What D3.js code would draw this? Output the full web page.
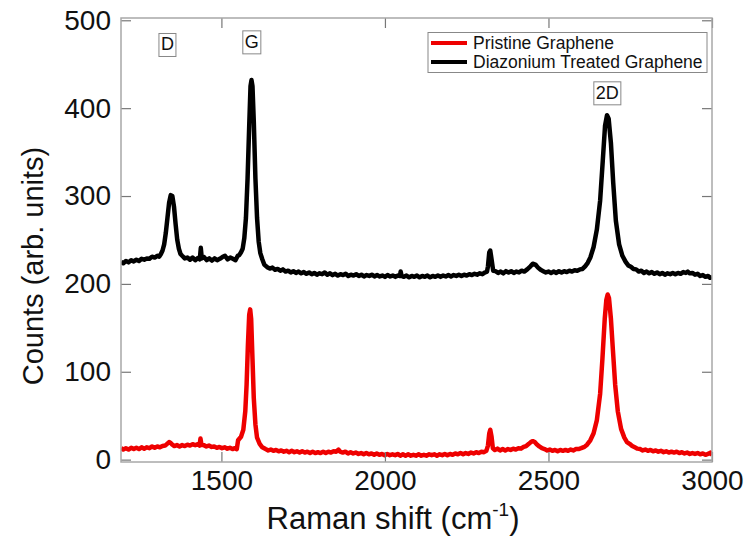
<!DOCTYPE html>
<html>
<head>
<meta charset="utf-8">
<script src="https://cdn.jsdelivr.net/npm/d3@7"></script>
<style>
  body { margin: 0; background: #fff; }
  svg { font-family: "Liberation Sans", Arial, sans-serif; }
</style>
</head>
<body>
<svg id="chart" width="745" height="540"></svg>
<script>
// Raman spectra: [wavenumber (cm-1), counts]
var treated = [
  [1193,225],[1200,223.5],[1208,226],[1216,224.5],[1224,227],[1232,225.5],[1240,227.5],[1248,226],
  [1256,228.5],[1264,227.5],[1272,229],[1280,228.5],[1288,231],[1296,230],[1304,232],[1310,231],
  [1315,234],[1320,238],[1325,245],[1330,258],[1335,275],[1340,292],[1345,301],[1350,300],
  [1355,288],[1360,268],[1365,250],[1370,240],[1375,234],[1380,232],[1388,229],[1396,230],
  [1404,227.5],[1412,230],[1420,227],[1428,229.5],[1434,228],[1437,241],[1440,229],[1447,230.5],
  [1455,227],[1463,229],[1471,226.5],[1479,229],[1487,227],[1495,228.5],[1503,230.5],[1511,232],
  [1519,228],[1527,230],[1535,228.5],[1543,227],[1550,232],[1555,233],[1560,236],[1565,240],
  [1570,252],[1575,275],[1580,320],[1585,380],[1589,425],[1592,432],[1595,425],[1599,385],
  [1604,320],[1609,275],[1614,248],[1619,235],[1625,228],[1631,222],
  [1640,219],[1648,217.5],[1656,218.5],[1664,216],[1672,217],[1680,215],[1688,216.5],[1696,214],
  [1704,215],[1712,213],[1720,214.5],[1728,212.5],[1736,214],[1744,212],[1752,213.5],[1760,211.5],
  [1768,213],[1776,211],[1784,212.5],[1792,210.5],[1800,212],[1808,211],[1816,213],[1824,210.5],
  [1832,212],[1840,210],[1848,211.5],[1856,209.5],[1864,211],[1872,210],[1880,211.5],[1888,209],
  [1896,210.5],[1904,209.5],[1912,211],[1920,209],[1928,210.5],[1936,208.5],[1944,210],[1952,209],
  [1960,210.5],[1968,208.5],[1976,210],[1984,208.5],[1992,209.5],[2000,208],[2008,210],[2016,208.5],
  [2024,209.5],[2032,208],[2040,209.5],[2046,209],[2048,214],[2051,209],[2058,208],[2066,209.5],
  [2074,207.5],[2082,209],[2090,208],[2098,209.5],[2106,207.5],[2114,209],[2122,208],[2130,209.5],
  [2138,207.5],[2146,209],[2154,208],[2162,209.5],[2170,208],[2178,209.5],[2186,208.5],[2194,210],
  [2202,208.5],[2210,210],[2218,209],[2226,210.5],[2234,209],[2242,210.5],[2250,209.5],[2258,211],
  [2266,210],[2274,211.5],[2282,210.5],[2290,212],[2298,211],[2306,213],[2312,214],
  [2315,220],[2319,236],[2322,238],[2326,228],[2331,215],[2338,214.5],[2346,212.5],[2354,214],
  [2362,212],[2370,214.5],[2378,213],[2386,214.5],[2394,212.5],[2402,214],[2410,213],[2418,215],
  [2426,214],[2435,216.5],[2445,220],[2452,223],[2460,222],[2468,218.5],[2476,216],[2484,214.5],
  [2492,213],[2500,214],[2508,212.5],[2516,214],[2524,212.5],[2532,214.5],[2540,213],[2548,214.5],
  [2556,213.5],[2564,215],[2572,214],[2580,215.5],[2588,215],[2596,216.5],[2604,217],[2612,220],
  [2620,224],[2628,230],[2638,242],[2648,262],[2658,295],[2666,340],[2673,380],[2679,392],
  [2684,388],[2691,360],[2698,315],[2706,272],[2716,245],[2726,232],[2736,225],[2744,221],
  [2752,219.5],[2760,217],[2768,216.5],[2776,214],[2784,215],[2792,212.5],[2800,214],[2808,212],
  [2816,213.5],[2824,211.5],[2832,213],[2840,211],[2848,212.5],[2856,210.5],[2864,212],[2872,211],
  [2880,212.5],[2888,211],[2896,212.5],[2904,211.5],[2912,213.5],[2920,212.5],[2926,214],[2932,212],
  [2940,212.5],[2948,210.5],[2956,211.5],[2964,209],[2972,210],[2980,208],[2988,209],[2994,207],
  [3000,207.5]
];

var pristine = [
  [1193,13],[1200,11.5],[1208,13],[1216,11.5],[1224,13.5],[1232,12],[1240,13.5],[1248,12],
  [1256,14],[1264,12.5],[1272,14],[1280,13],[1288,15],[1296,13.5],[1304,15],[1312,14],
  [1320,15.5],[1328,16],[1334,18],[1340,20],[1345,19],[1350,17],[1356,15.5],[1364,16.5],
  [1372,15],[1380,16.5],[1388,15.5],[1396,17],[1404,16],[1412,17.5],[1420,16.5],[1428,17.5],
  [1433,16],[1436,24],[1439,17],[1446,16.5],[1454,15],[1462,16],[1470,14.5],[1478,15],
  [1486,13.5],[1494,14.5],[1502,13],[1510,14],[1518,12.5],[1526,13.5],[1534,12],[1541,13],
  [1547,12],[1551,22],[1560,26],[1567,34],[1573,55],[1577,85],[1581,130],[1585,165],
  [1588,171],[1591,160],[1595,115],[1599,70],[1604,40],[1609,25],[1617,18],[1625,14],
  [1635,12],[1643,10.5],[1651,11.5],[1659,10],[1667,11],[1675,9.5],[1683,10.5],[1691,9],
  [1699,10],[1707,8.5],[1715,10],[1723,8.5],[1731,9.5],[1739,8],[1747,9.5],[1755,8],
  [1763,9],[1771,7.5],[1779,9],[1787,7.5],[1795,8.5],[1803,7.5],[1811,9],[1819,7.5],
  [1827,9],[1835,8],[1843,9.5],[1851,9],[1858,11.5],[1863,9],[1871,8],[1879,9],
  [1887,7],[1895,8.5],[1903,7],[1911,8],[1919,6.5],[1927,7.5],[1935,6],[1943,7.5],
  [1951,6],[1959,7],[1967,5.5],[1975,7],[1983,5.5],[1991,6.5],[1999,5],[2007,6.5],
  [2015,5],[2023,6],[2031,5],[2039,6.5],[2047,4.5],[2055,6],[2063,4.5],[2071,6],
  [2079,4.5],[2087,5.5],[2095,4.5],[2103,6],[2111,4.5],[2119,5.5],[2127,4.5],[2135,6],
  [2143,5],[2151,6],[2159,4.5],[2167,6],[2175,5],[2183,6.5],[2191,5],[2199,6.5],
  [2207,5.5],[2215,7],[2223,6],[2231,7.5],[2239,6],[2247,7.5],[2255,6.5],[2263,8],
  [2271,7],[2279,8.5],[2287,7.5],[2295,9],[2303,8.5],[2310,10],[2315,16],[2319,30],
  [2322,34],[2326,26],[2330,13],[2336,11],[2344,12.5],[2352,10.5],[2360,12],[2368,10.5],
  [2376,12],[2384,11],[2392,12.5],[2400,11.5],[2408,13],[2416,12.5],[2424,14.5],[2432,15.5],
  [2440,18],[2446,20],[2452,21],[2458,20],[2464,17.5],[2472,15],[2480,13],[2488,12],
  [2496,10.5],[2504,11.5],[2512,10],[2520,11],[2528,9.5],[2536,11],[2544,10],[2552,11],
  [2560,10],[2568,11.5],[2576,10.5],[2584,12],[2592,12],[2600,13],[2610,14.5],[2618,17],
  [2628,22],[2638,30],[2648,45],[2658,75],[2665,115],[2672,160],[2677,182],[2681,188],
  [2685,184],[2691,160],[2697,125],[2704,85],[2712,55],[2722,35],[2732,25],[2740,20],
  [2748,18],[2756,15.5],[2764,14],[2772,12.5],[2780,12],[2788,10.5],[2796,11.5],[2804,10],
  [2812,11],[2820,9.5],[2828,10.5],[2836,9],[2844,10],[2852,8.5],[2860,9.5],[2868,8],
  [2876,9],[2884,8],[2892,9],[2900,7.5],[2908,8.5],[2916,7],[2924,8],[2932,6.5],
  [2940,7.5],[2948,6.5],[2956,7.5],[2964,6],[2972,7],[2980,5.5],[2988,6.5],[2995,8],
  [3000,5]
];

var seriesNames = ["Pristine Graphene", "Diazonium Treated Graphene"];
var seriesColors = ["#ee0000", "#000000"];

var xTicks = [1500, 2000, 2500, 3000];
var yTicks = [0, 100, 200, 300, 400, 500];

// peak labels placed at [wavenumber, counts]
var peakLabels = ["D", "G", "2D"];
var peakPos = [[1335, 473], [1593, 476], [2680, 418]];

var svg = d3.select("#chart");
var pLeft = 121, pRight = 712, pTop = 18, pBottom = 462;

var x = d3.scaleLinear().domain([1193, 3000]).range([pLeft, pRight]);
var y = d3.scaleLinear().domain([-2.7, 502.6]).range([pBottom, pTop]);

svg.append("defs").append("clipPath").attr("id", "clip")
  .append("rect")
  .attr("x", pLeft).attr("y", pTop)
  .attr("width", pRight - pLeft).attr("height", pBottom - pTop);

// spectra
var line = d3.line().x((d) => x(d[0])).y((d) => y(d[1]));

svg.append("path")
  .datum(treated)
  .attr("clip-path", "url(#clip)")
  .attr("d", line)
  .attr("fill", "none")
  .attr("stroke", seriesColors[1])
  .attr("stroke-width", 4.5)
  .attr("stroke-linejoin", "round");

svg.append("path")
  .datum(pristine)
  .attr("clip-path", "url(#clip)")
  .attr("d", line)
  .attr("fill", "none")
  .attr("stroke", seriesColors[0])
  .attr("stroke-width", 4.5)
  .attr("stroke-linejoin", "round");

// frame with inward ticks on all four sides
var tickLen = 10;
function styleAxis(g) {
  g.select(".domain").remove();
  g.selectAll(".tick line").attr("stroke", "#777").attr("stroke-width", 1.2);
  g.selectAll("text")
    .attr("fill", "#111")
    .style("font-size", "28px")
    .style("font-family", "'Liberation Sans', Arial, sans-serif");
}

svg.append("g")
  .attr("transform", "translate(0," + pBottom + ")")
  .call(d3.axisBottom(x).tickValues(xTicks).tickSize(-tickLen).tickPadding(10).tickFormat(d3.format("d")))
  .call(styleAxis)
  .selectAll("text").attr("y", 8).attr("dy", "0.72em");

svg.append("g")
  .attr("transform", "translate(0," + pTop + ")")
  .call(d3.axisTop(x).tickValues(xTicks).tickSize(-tickLen).tickFormat(""))
  .call(styleAxis);

svg.append("g")
  .attr("transform", "translate(" + pLeft + ",0)")
  .call(d3.axisLeft(y).tickValues(yTicks).tickSize(-tickLen).tickPadding(10))
  .call(styleAxis);

svg.append("g")
  .attr("transform", "translate(" + pRight + ",0)")
  .call(d3.axisRight(y).tickValues(yTicks).tickSize(-tickLen).tickFormat(""))
  .call(styleAxis);

svg.append("rect")
  .attr("x", pLeft).attr("y", pTop)
  .attr("width", pRight - pLeft).attr("height", pBottom - pTop)
  .attr("fill", "none")
  .attr("stroke", "#a8a8a8")
  .attr("stroke-width", 1.5);

// axis titles
var xt = svg.append("text")
  .attr("x", 393).attr("y", 529)
  .attr("text-anchor", "middle")
  .style("font-size", "31px")
  .attr("fill", "#111");
xt.append("tspan").text("Raman shift (cm");
xt.append("tspan").attr("dy", -13).style("font-size", "19px").text("-1");
xt.append("tspan").attr("dy", 13).text(")");

svg.append("text")
  .attr("transform", "translate(43,266) rotate(-90)")
  .attr("text-anchor", "middle")
  .style("font-size", "29px")
  .attr("fill", "#111")
  .text("Counts (arb. units)");

// peak labels in small boxes
peakLabels.forEach(function(lab, i) {
  var g = svg.append("g");
  var t = g.append("text")
    .attr("x", x(peakPos[i][0]))
    .attr("y", y(peakPos[i][1]))
    .attr("dy", "0.36em")
    .attr("text-anchor", "middle")
    .style("font-size", "18px")
    .attr("fill", "#111")
    .text(lab);
  var bb = t.node().getBBox();
  g.insert("rect", "text")
    .attr("x", bb.x - 2).attr("y", bb.y - 1)
    .attr("width", bb.width + 4).attr("height", bb.height + 3)
    .attr("fill", "#fff")
    .attr("stroke", "#888")
    .attr("stroke-width", 1);
});

// legend
var lg = svg.append("g");
lg.append("rect")
  .attr("x", 428).attr("y", 32.5)
  .attr("width", 279).attr("height", 40)
  .attr("fill", "#fff")
  .attr("stroke", "#888")
  .attr("stroke-width", 1);

seriesNames.forEach(function(name, i) {
  var yy = 43 + i * 19;
  lg.append("line")
    .attr("x1", 431).attr("x2", 467)
    .attr("y1", yy).attr("y2", yy)
    .attr("stroke", seriesColors[i])
    .attr("stroke-width", 4);
  lg.append("text")
    .attr("x", 473).attr("y", yy)
    .attr("dy", "0.36em")
    .style("font-size", "17.5px")
    .attr("fill", "#111")
    .text(name);
});
</script>
</body>
</html>
